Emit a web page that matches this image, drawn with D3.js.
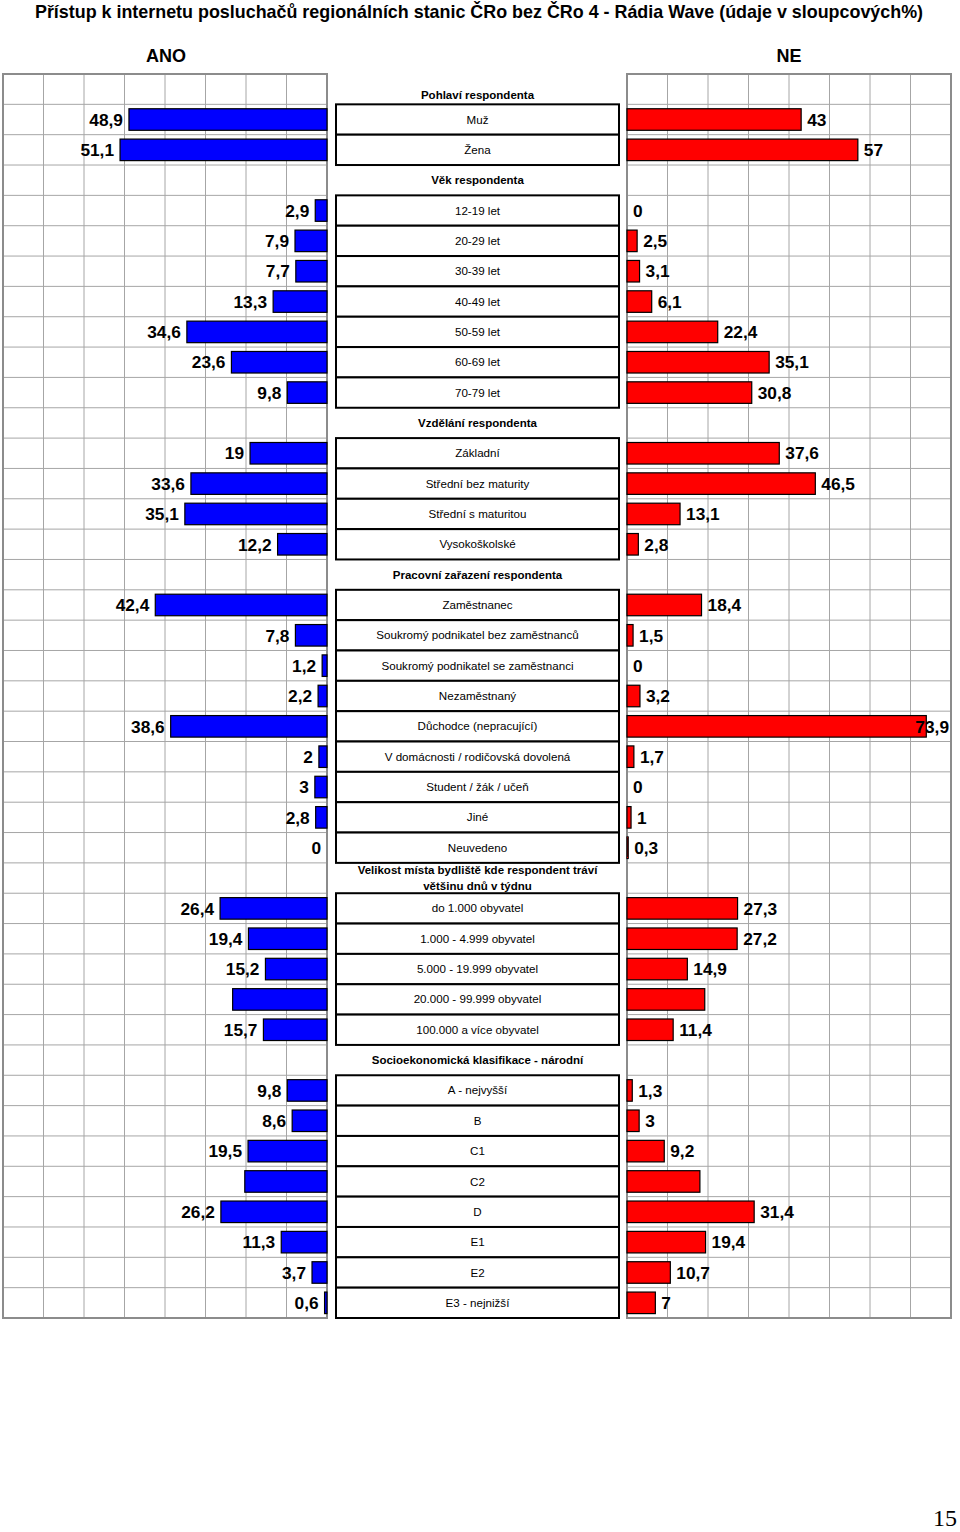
<!DOCTYPE html>
<html>
<head>
<meta charset="utf-8">
<script src="https://cdn.jsdelivr.net/npm/d3@7"></script>
<style>
body{margin:0;background:#fff;}
svg{display:block;font-family:"Liberation Sans",Arial,sans-serif;}
</style>
</head>
<body>
<div id="chart"></div>
<script>
const chartTitle = "Přístup k internetu posluchačů regionálních stanic ČRo bez ČRo 4 - Rádia Wave (údaje v sloupcových%)";
const seriesNames = ["ANO", "NE"];
const groupTitles = [
  "Pohlaví respondenta",
  "Věk respondenta",
  "Vzdělání respondenta",
  "Pracovní zařazení respondenta",
  "Velikost místa bydliště kde respondent tráví většinu dnů v týdnu",
  "Socioekonomická klasifikace - národní"
];
const categories = [
  ["Muž", "Žena"],
  ["12-19 let", "20-29 let", "30-39 let", "40-49 let", "50-59 let", "60-69 let", "70-79 let"],
  ["Základní", "Střední bez maturity", "Střední s maturitou", "Vysokoškolské"],
  ["Zaměstnanec", "Soukromý podnikatel bez zaměstnanců", "Soukromý podnikatel se zaměstnanci", "Nezaměstnaný", "Důchodce (nepracující)", "V domácnosti / rodičovská dovolená", "Student / žák / učeň", "Jiné", "Neuvedeno"],
  ["do 1.000 obyvatel", "1.000 - 4.999 obyvatel", "5.000 - 19.999 obyvatel", "20.000 - 99.999 obyvatel", "100.000 a více obyvatel"],
  ["A - nejvyšší", "B", "C1", "C2", "D", "E1", "E2", "E3 - nejnižší"]
];
const anoValues = [
  [48.9, 51.1],
  [2.9, 7.9, 7.7, 13.3, 34.6, 23.6, 9.8],
  [19, 33.6, 35.1, 12.2],
  [42.4, 7.8, 1.2, 2.2, 38.6, 2, 3, 2.8, 0],
  [26.4, 19.4, 15.2, 23.3, 15.7],
  [9.8, 8.6, 19.5, 20.3, 26.2, 11.3, 3.7, 0.6]
];
const neValues = [
  [43, 57],
  [0, 2.5, 3.1, 6.1, 22.4, 35.1, 30.8],
  [37.6, 46.5, 13.1, 2.8],
  [18.4, 1.5, 0, 3.2, 73.9, 1.7, 0, 1, 0.3],
  [27.3, 27.2, 14.9, 19.2, 11.4],
  [1.3, 3, 9.2, 18, 31.4, 19.4, 10.7, 7]
];
// categories whose value labels are not shown in the original
const unlabeledCategories = ["20.000 - 99.999 obyvatel", "C2"];
const axisMax = 80;
const gridTicks = [0, 10, 20, 30, 40, 50, 60, 70, 80];
const pageNumber = "15";

const W = 960, H = 1532;
const svg = d3.select("#chart").append("svg").attr("width", W).attr("height", H);

// build row list
const rows = [];
groupTitles.forEach((g, gi) => {
  rows.push({id: "h" + gi, type: "header", text: g, gi});
  categories[gi].forEach((c, ci) => {
    rows.push({id: "c" + gi + "_" + ci, type: "cat", text: c, gi, ci,
      ano: anoValues[gi][ci], ne: neValues[gi][ci]});
  });
});

const plotTop = 74, plotBottom = 1318;
const y = d3.scaleBand().domain(rows.map(r => r.id)).range([plotTop, plotBottom]).padding(0);
const bw = y.bandwidth();
const barH = bw * 0.71;

const leftX0 = 3, leftX1 = 327, rightX0 = 627, rightX1 = 951;
const xL = d3.scaleLinear().domain([0, axisMax]).range([leftX1, leftX0]);
const xR = d3.scaleLinear().domain([0, axisMax]).range([rightX0, rightX1]);
const midX0 = 336, midX1 = 619, midC = (midX0 + midX1) / 2;

const fmt = v => String(v).replace(".", ",");

// title
svg.append("text").attr("x", W / 2 - 1).attr("y", 18).attr("text-anchor", "middle")
  .attr("font-size", 17.9).attr("font-weight", "bold").text(chartTitle);

// series headers
svg.append("text").attr("x", (leftX0 + leftX1) / 2 + 1).attr("y", 62).attr("text-anchor", "middle")
  .attr("font-size", 18).attr("font-weight", "bold").text(seriesNames[0]);
svg.append("text").attr("x", (rightX0 + rightX1) / 2).attr("y", 62).attr("text-anchor", "middle")
  .attr("font-size", 18).attr("font-weight", "bold").text(seriesNames[1]);

function drawPanel(x, x0, x1) {
  const g = svg.append("g");
  g.append("rect").attr("x", x0).attr("y", plotTop).attr("width", x1 - x0).attr("height", plotBottom - plotTop)
    .attr("fill", "#fff");
  g.selectAll("line.v").data(gridTicks.slice(1, -1)).join("line")
    .attr("x1", d => x(d)).attr("x2", d => x(d)).attr("y1", plotTop).attr("y2", plotBottom)
    .attr("stroke", "#a6a6a6").attr("stroke-width", 1);
  g.selectAll("line.h").data(rows.slice(1)).join("line")
    .attr("x1", x0).attr("x2", x1).attr("y1", d => y(d.id)).attr("y2", d => y(d.id))
    .attr("stroke", "#a6a6a6").attr("stroke-width", 1);
  g.append("rect").attr("x", x0).attr("y", plotTop).attr("width", x1 - x0).attr("height", plotBottom - plotTop)
    .attr("fill", "none").attr("stroke", "#8c8c8c").attr("stroke-width", 2);
}
drawPanel(xL, leftX0, leftX1);
drawPanel(xR, rightX0, rightX1);

const catRows = rows.filter(r => r.type === "cat");

// bars
svg.append("g").selectAll("rect").data(catRows.filter(r => r.ano > 0)).join("rect")
  .attr("x", d => xL(d.ano)).attr("width", d => xL(0) - xL(d.ano))
  .attr("y", d => y(d.id) + (bw - barH) / 2).attr("height", barH)
  .attr("fill", "#0000ff").attr("stroke", "#000").attr("stroke-width", 1.2);
svg.append("g").selectAll("rect").data(catRows.filter(r => r.ne > 0)).join("rect")
  .attr("x", xR(0)).attr("width", d => xR(d.ne) - xR(0))
  .attr("y", d => y(d.id) + (bw - barH) / 2).attr("height", barH)
  .attr("fill", "#ff0000").attr("stroke", "#000").attr("stroke-width", 1.2);

// value labels
const labeled = catRows.filter(r => !unlabeledCategories.includes(r.text));
svg.append("g").selectAll("text").data(labeled).join("text")
  .attr("x", d => xL(d.ano) - 6).attr("y", d => y(d.id) + bw / 2).attr("dy", "0.36em")
  .attr("text-anchor", "end").attr("font-size", 17.3).attr("font-weight", "bold")
  .text(d => fmt(d.ano));
svg.append("g").selectAll("text").data(labeled).join("text")
  .attr("x", d => xR(d.ne) + 6).attr("y", d => y(d.id) + bw / 2).attr("dy", "0.36em")
  .attr("font-size", 17.3).attr("font-weight", "bold")
  .text(d => fmt(d.ne))
  .each(function() {
    const len = this.getComputedTextLength();
    const x = +this.getAttribute("x");
    if (x + len > rightX1 - 2) this.setAttribute("x", rightX1 - 2 - len);
  });

// middle category boxes
const mid = svg.append("g");
mid.selectAll("rect").data(catRows).join("rect")
  .attr("x", midX0).attr("y", d => y(d.id)).attr("width", midX1 - midX0).attr("height", bw)
  .attr("fill", "#fff").attr("stroke", "#000").attr("stroke-width", 2);
mid.selectAll("text.cat").data(catRows).join("text").attr("class", "cat")
  .attr("x", midC).attr("y", d => y(d.id) + bw / 2).attr("dy", "0.35em")
  .attr("text-anchor", "middle").attr("font-size", 11.6).text(d => d.text);

// group headers (wrapped)
const headerRows = rows.filter(r => r.type === "header");
const hSize = 11.5;
headerRows.forEach((r, i) => {
  const t = mid.append("text").attr("text-anchor", "middle").attr("font-size", hSize)
    .attr("font-weight", "bold");
  const words = r.text.split(" ");
  const lines = [];
  let line = [];
  const probe = mid.append("text").attr("font-size", hSize).attr("font-weight", "bold");
  words.forEach(w => {
    const test = line.concat(w).join(" ");
    probe.text(test);
    if (probe.node().getComputedTextLength() > 255 && line.length) {
      lines.push(line.join(" "));
      line = [w];
    } else line.push(w);
  });
  lines.push(line.join(" "));
  probe.remove();
  const cy = y(r.id) + bw / 2 + (i === 0 ? 6 : 0);
  const lh = 15.5;
  lines.forEach((l, li) => {
    t.append("tspan").attr("x", midC)
      .attr("y", cy + (li - (lines.length - 1) / 2) * lh).attr("dy", "0.35em").text(l);
  });
});

// page number
svg.append("text").attr("x", 957).attr("y", 1526).attr("text-anchor", "end")
  .attr("font-family", "'Liberation Serif','Times New Roman',serif").attr("font-size", 24)
  .text(pageNumber);
</script>
</body>
</html>
